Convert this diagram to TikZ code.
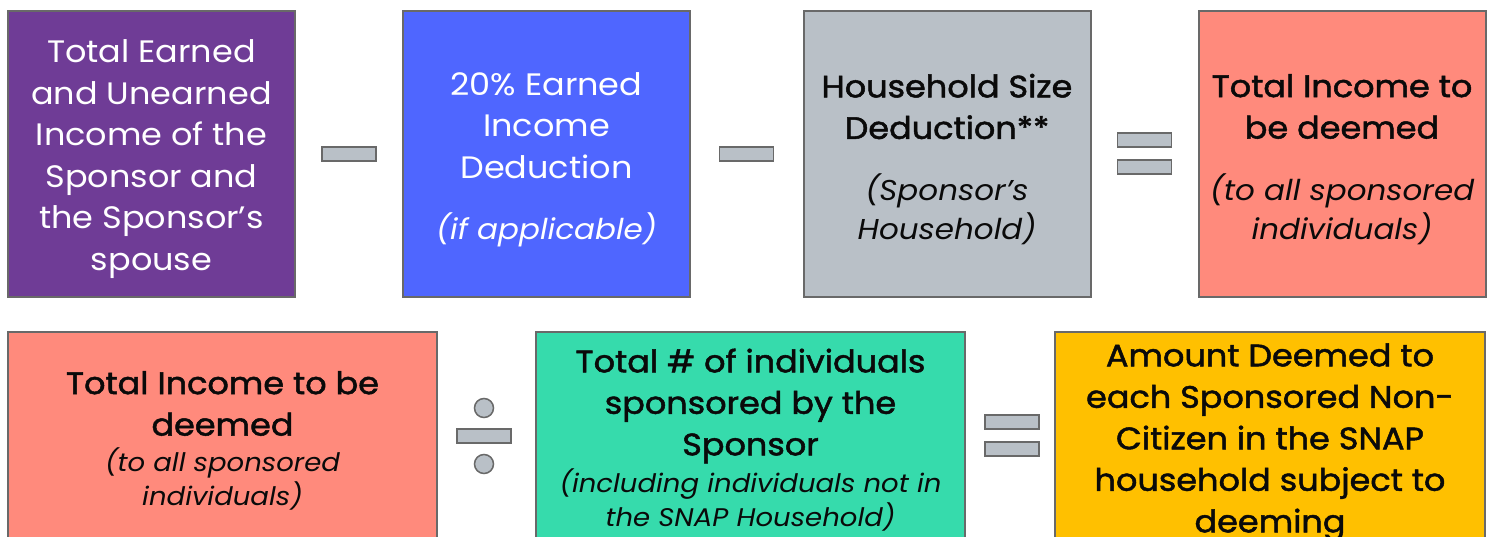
\documentclass[tikz,border=0pt]{standalone}
\usepackage{fontspec}
\setmainfont{Poppins}[FakeStretch=1.08]
\newfontfamily\medfont{Poppins}[FakeStretch=1.08, FakeBold=1.6]
\usetikzlibrary{positioning}
\definecolor{sponsorpurple}{RGB}{111,60,150}
\definecolor{deductblue}{RGB}{79,102,255}
\definecolor{sizegray}{RGB}{185,192,199}
\definecolor{incomesalmon}{RGB}{255,138,124}
\definecolor{countgreen}{RGB}{54,219,172}
\definecolor{deemamber}{RGB}{255,192,0}
\definecolor{edgegray}{RGB}{105,105,105}
\definecolor{inkblack}{RGB}{10,10,10}

\tikzset{
  termbox/.style={draw=edgegray, line width=2pt, inner sep=0pt, minimum width=287pt, minimum height=286pt},
  widebox/.style={termbox, minimum width=429pt, minimum height=214pt},
  maintext/.style={align=center, inner sep=0pt, text=inkblack, font=\fontsize{31}{41.5}\selectfont\medfont},
  whitetext/.style={maintext, text=white, font=\fontsize{31}{41.5}\selectfont},
  notetext/.style={align=center, inner sep=0pt, text=inkblack, font=\fontsize{28.7}{39}\selectfont\itshape},
  smallnote/.style={notetext, font=\fontsize{25.5}{34}\selectfont\itshape},
  opbar/.style={draw=edgegray, fill=sizegray, line width=1.5pt, minimum width=54pt, minimum height=14pt, inner sep=0pt},
  opdot/.style={draw=edgegray, fill=sizegray, line width=1.5pt, circle, minimum size=19pt, inner sep=0pt}
}

\begin{document}
\begin{tikzpicture}[x=1pt,y=-1pt]
    \useasboundingbox[fill=white] (0,0) rectangle (1493,537);

    % top row: sponsor income minus deductions
    \node[termbox, fill=sponsorpurple] (earned) at (151.5,154) {};
    \node[whitetext] (earnedText) at (151.5,159) {Total Earned\\and Unearned\\Income of the\\Sponsor and\\the Sponsor’s\\spouse};
    \node[opbar] (minusA) at (349,154) {};

    \node[termbox, fill=deductblue] (twenty) at (546.5,154) {};
    \node[whitetext] (twentyText) at (546.5,125.5) {20\% Earned\\Income\\Deduction};
    \node[notetext, text=white] (twentyNote) at (546.5,230) {(if applicable)};
    \node[opbar] (minusB) at (746.5,154) {};

    \node[termbox, fill=sizegray] (hhsize) at (947,154) {};
    \node[maintext] (hhsizeText) at (947,106.5) {Household Size\\Deduction**};
    \node[notetext] (hhsizeNote) at (947,209.5) {(Sponsor’s\\Household)};
    \node[opbar] (equalsA) at (1144.5,140) {};
    \node[opbar] (equalsB) at (1144.5,167) {};

    \node[termbox, fill=incomesalmon] (deemed) at (1342,154) {};
    \node[maintext] (deemedText) at (1342,106.5) {Total Income to\\be deemed};
    \node[notetext] (deemedNote) at (1342,209) {(to all sponsored\\individuals)};

    % bottom row: divide among sponsored individuals
    \node[widebox, fill=incomesalmon] (total) at (222.5,439) {};
    \node[maintext] (totalText) at (222.5,403.5) {Total Income to be\\deemed};
    \node[smallnote] (totalNote) at (222.5,478.5) {(to all sponsored\\individuals)};
    \node[opbar] (divBar) at (484,436) {};
    \node[opdot] (divTop) at (484,408) {};
    \node[opdot] (divBot) at (484,464) {};

    \node[widebox, fill=countgreen] (count) at (750.5,439) {};
    \node[maintext] (countText) at (750.5,406) {Total \# of individuals\\sponsored by the\\Sponsor};
    \node[smallnote] (countNote) at (750.5,499.5) {(including individuals not in\\the SNAP Household)};
    \node[opbar] (equalsC) at (1012,422) {};
    \node[opbar] (equalsD) at (1012,449) {};

    \node[widebox, minimum width=430pt, fill=deemamber] (share) at (1270,439) {};
    \node[maintext] (shareText) at (1270,442) {Amount Deemed to\\each Sponsored Non-\\Citizen in the SNAP\\household subject to\\deeming};
\end{tikzpicture}
\end{document}
